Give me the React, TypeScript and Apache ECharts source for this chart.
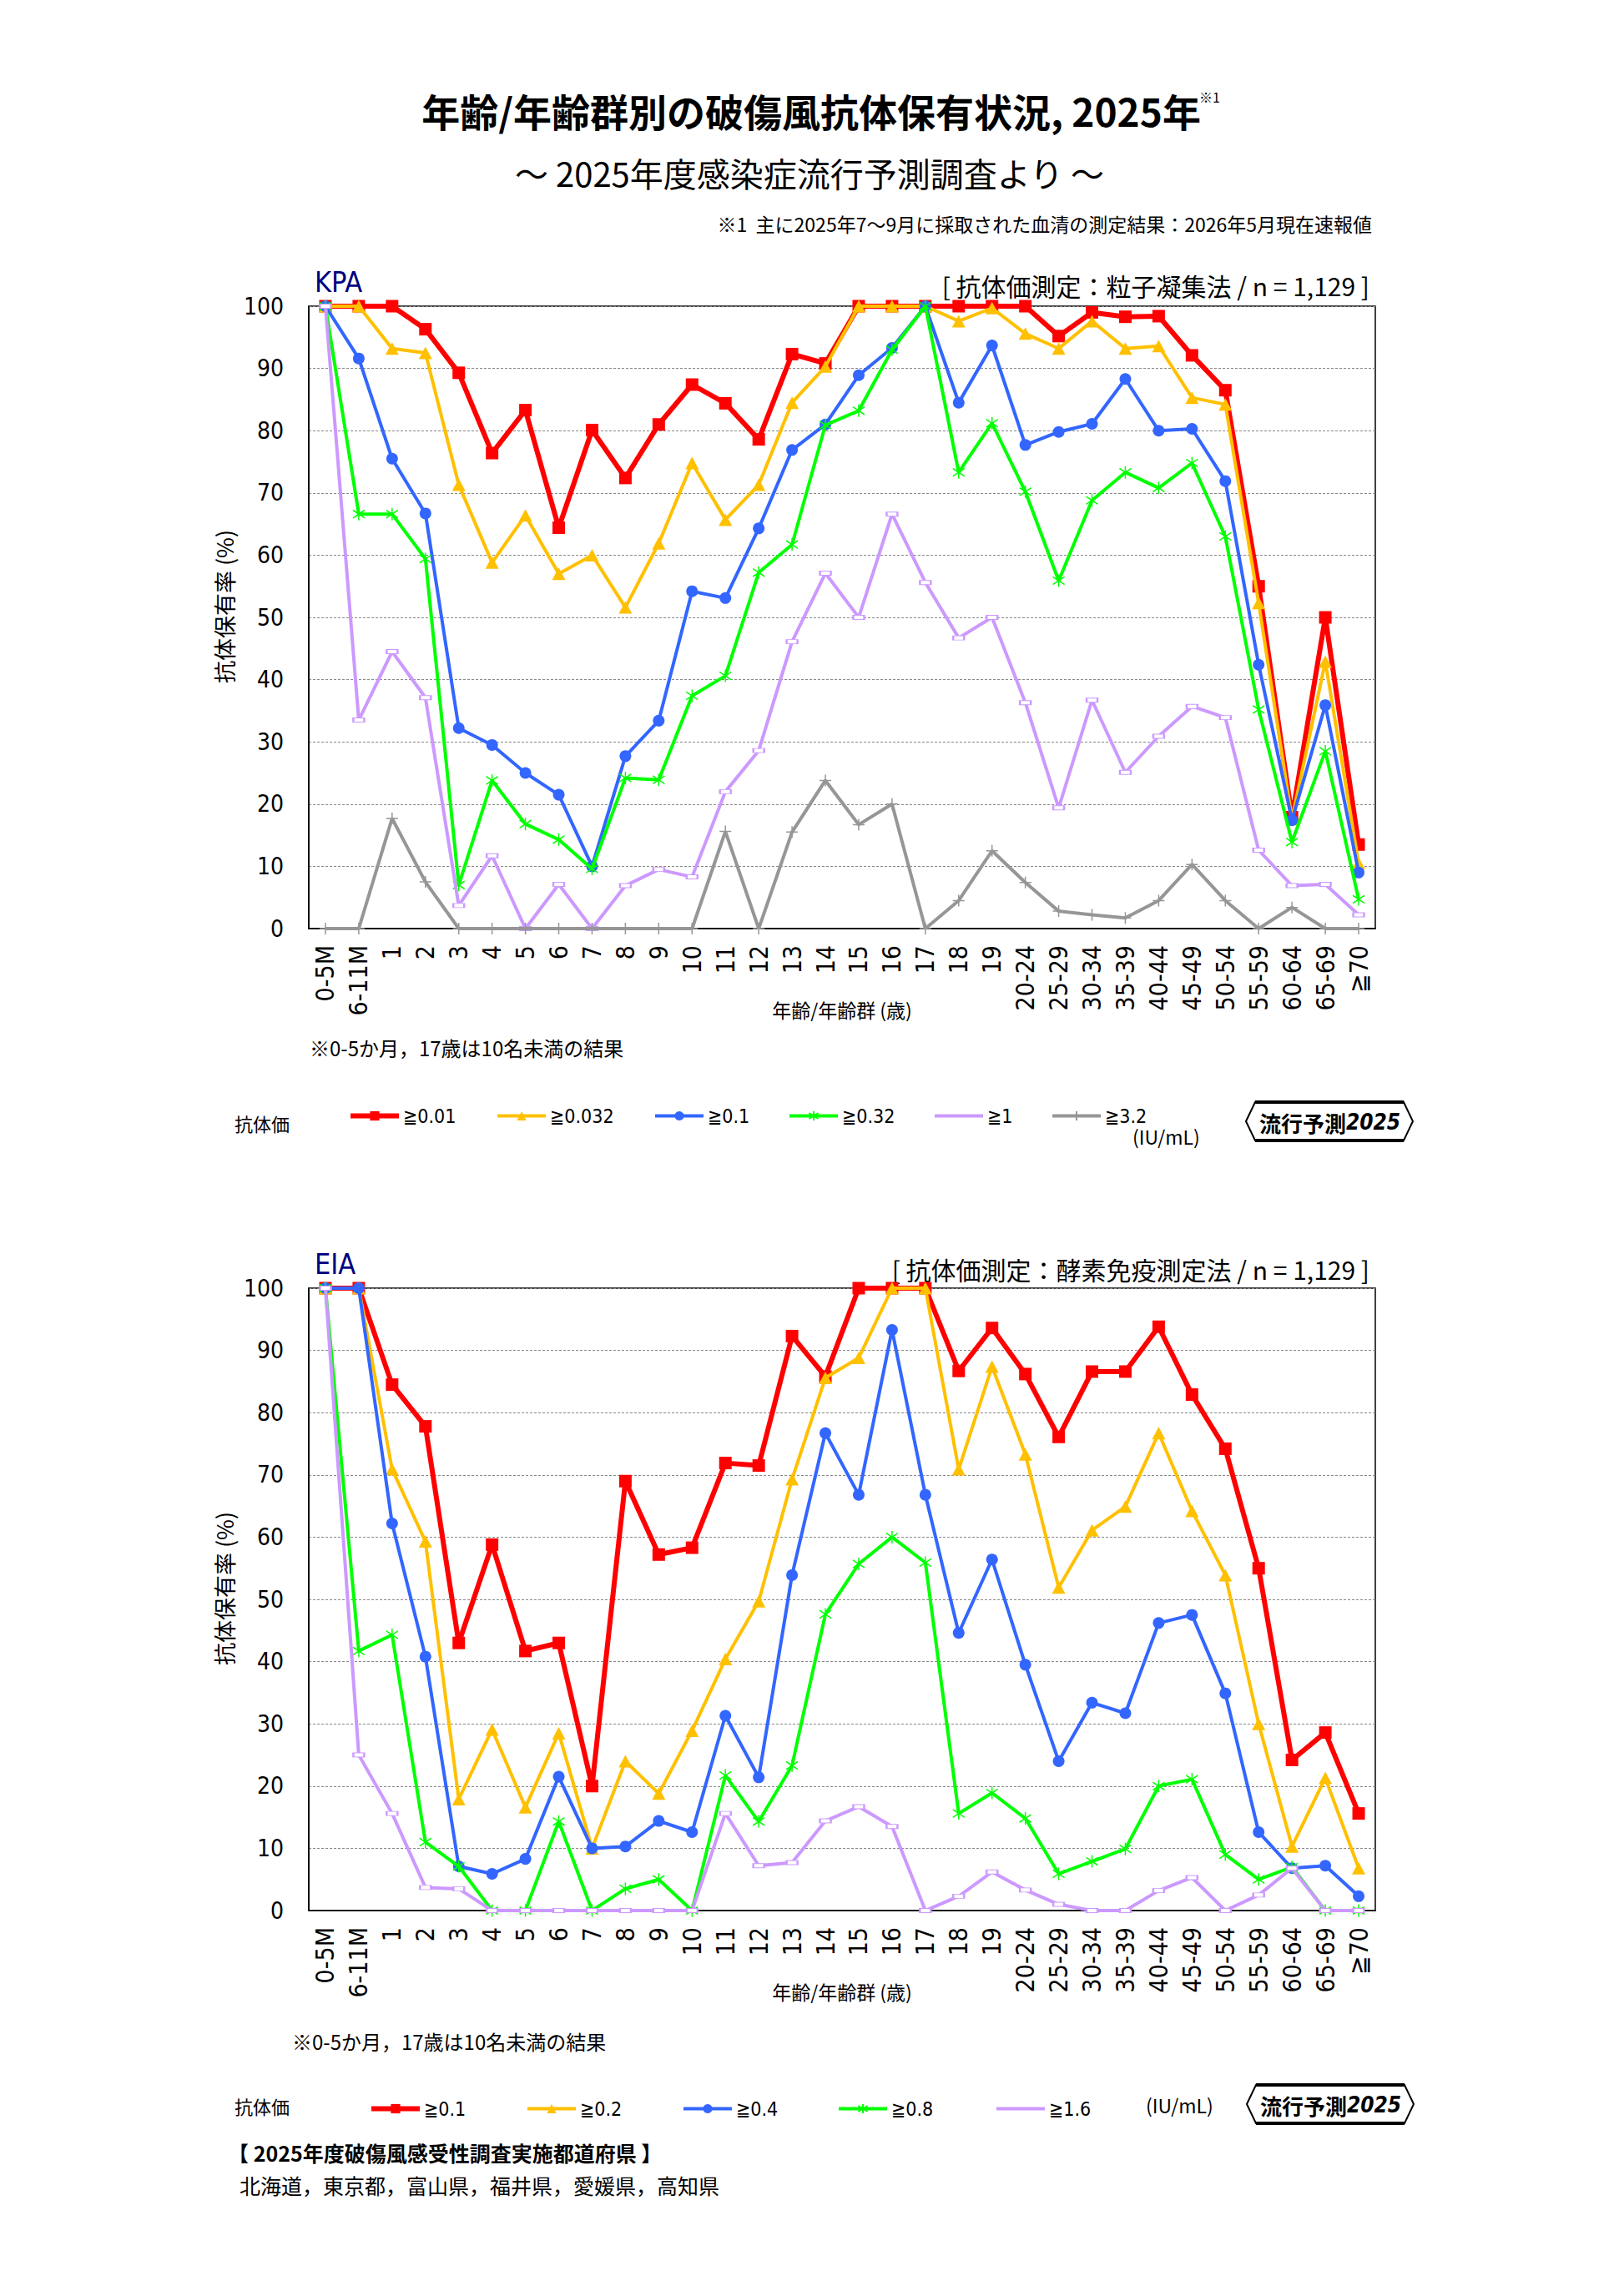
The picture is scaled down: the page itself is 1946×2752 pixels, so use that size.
import React, { useEffect, useRef } from "react";
import * as echarts from "echarts";

const categories = ["0-5M","6-11M","1","2","3","4","5","6","7","8","9","10","11","12","13","14","15","16","17","18","19","20-24","25-29","30-34","35-39","40-44","45-49","50-54","55-59","60-64","65-69","≧70"];

const yTicks = [0, 10, 20, 30, 40, 50, 60, 70, 80, 90, 100];

// KPA (particle agglutination)
const kpaNames = ["≧0.01", "≧0.032", "≧0.1", "≧0.32", "≧1", "≧3.2"];
const kpa001 = [100,100,100,96.3,89.3,76.4,83.3,64.4,80.1,72.4,81.0,87.4,84.4,78.6,92.3,90.8,100,100,100,100,100,100,95.2,99.0,98.3,98.4,92.1,86.5,55.0,17.9,50.0,13.5];
const kpa0032 = [100,100,93.2,92.5,71.3,58.8,66.4,57.0,60.0,51.6,61.9,74.8,65.7,71.3,84.5,90.3,100,100,100,97.6,99.7,95.6,93.2,97.6,93.2,93.6,85.3,84.2,52.3,17.6,42.9,10.5];
const kpa01 = [100,91.6,75.5,66.7,32.2,29.5,25.0,21.5,10.0,27.7,33.4,54.2,53.1,64.3,76.9,81.0,88.9,93.3,100,84.5,93.7,77.7,79.8,81.1,88.3,80.0,80.3,71.9,42.4,17.4,35.9,9.0];
const kpa032 = [100,66.6,66.6,59.4,7.0,23.8,16.8,14.3,9.6,24.2,23.9,37.4,40.6,57.2,61.7,80.9,83.2,93.0,100,73.3,81.2,70.2,55.9,68.8,73.3,70.8,74.8,63.0,35.2,13.9,28.5,4.7];
const kpa1 = [100,33.5,44.5,37.1,3.7,11.7,0,7.1,0,6.9,9.5,8.3,22.0,28.6,46.1,57.1,50.0,66.6,55.6,46.7,50.0,36.3,19.4,36.7,25.1,30.9,35.7,33.9,12.6,6.9,7.1,2.2];
const kpa32 = [0,0,17.7,7.5,0,0,0,0,0,0,0,0,15.6,0,15.5,23.8,16.7,20.0,0,4.5,12.5,7.4,2.8,2.2,1.7,4.5,10.3,4.5,0,3.4,0,0];

// EIA (enzyme immunoassay)
const eiaNames = ["≧0.1", "≧0.2", "≧0.4", "≧0.8", "≧1.6"];
const eia01 = [100,100,84.5,77.8,43.0,58.8,41.7,43.0,20.0,69.0,57.2,58.3,71.9,71.5,92.3,85.8,100,100,100,86.7,93.6,86.2,76.1,86.6,86.6,93.8,82.9,74.2,55.0,24.2,28.6,15.6];
const eia02 = [100,100,70.9,59.3,17.9,29.1,16.6,28.5,10.0,24.0,18.8,28.9,40.4,49.7,69.3,85.6,88.8,100,100,70.9,87.4,73.3,51.9,61.1,64.9,76.7,64.2,53.9,30.0,10.3,21.3,6.8];
const eia04 = [100,100,62.2,40.8,7.1,5.9,8.3,21.5,10.0,10.3,14.4,12.6,31.3,21.4,53.9,76.7,66.8,93.3,66.8,44.6,56.4,39.5,24.0,33.4,31.7,46.2,47.5,34.9,12.6,6.8,7.2,2.3];
const eia08 = [100,41.7,44.3,11.0,7.1,0,0,14.3,0,3.5,5.0,0,21.7,14.3,23.3,47.6,55.7,60.0,55.9,15.6,18.9,14.8,5.9,7.9,9.9,20.0,21.1,9.0,5.0,7.0,0,0];
const eia16 = [100,25.0,15.6,3.7,3.5,0,0,0,0,0,0,0,15.6,7.2,7.7,14.4,16.7,13.5,0,2.3,6.2,3.3,1.0,0,0,3.2,5.3,0,2.5,6.8,0,0];

const kpaData = [kpa001, kpa0032, kpa01, kpa032, kpa1, kpa32];
const eiaData = [eia01, eia02, eia04, eia08, eia16];

const NUM = "'DejaVu Sans Condensed','DejaVu Sans','Noto Sans CJK JP',sans-serif";
const JP = "'Noto Sans CJK JP','DejaVu Sans',sans-serif";

const RED = "#FF0000", YEL = "#FFC000", BLU = "#3366FF", GRN = "#00FF00", LIL = "#CC99FF", GRY = "#969696";

const ASTER = "path://M7,0V16M0,3L14,13M0,13L14,3";
const PLUS = "path://M7,0V14M0,7H14";

const styles = [
  { color: RED, width: 6, symbol: "rect", size: 15, fill: RED, bw: 0 },
  { color: YEL, width: 4, symbol: "triangle", size: [16, 15], fill: YEL, bw: 0 },
  { color: BLU, width: 4, symbol: "circle", size: 14, fill: BLU, bw: 0 },
  { color: GRN, width: 4, symbol: ASTER, size: [14, 15], fill: GRN, bw: 1.5 },
  { color: LIL, width: 4, symbol: "rect", size: [13, 5], fill: "#ffffff", bw: 1.5 },
  { color: GRY, width: 4, symbol: PLUS, size: [14, 14], fill: GRY, bw: 1.5 },
];

const OFF = 1177;

function txt(x: number, y: number, text: string, size: number, opts: any = {}) {
  const align = opts.align || "left";
  const va = opts.va || "middle";
  return {
    type: "text",
    x,
    y,
    rotation: opts.rotation || 0,
    style: {
      text,
      fontSize: size,
      fontFamily: opts.family || JP,
      fontWeight: opts.bold ? "bold" : "normal",
      fontStyle: opts.italic ? "italic" : "normal",
      fill: opts.color || "#000",
      align,
      textAlign: align,
      verticalAlign: va,
      textVerticalAlign: va,
    },
  };
}

function badge(cx: number, cy: number) {
  return [
    {
      type: "polygon",
      shape: { points: [[cx - 100, cy], [cx - 89, cy - 23], [cx + 89, cy - 23], [cx + 100, cy], [cx + 89, cy + 23], [cx - 89, cy + 23]] },
      style: { fill: "#fff", stroke: "#000", lineWidth: 2 },
    },
    { type: "rect", shape: { x: cx - 89, y: cy - 25, width: 178, height: 4 }, style: { fill: "#000" } },
    { type: "rect", shape: { x: cx - 89, y: cy + 21, width: 178, height: 4 }, style: { fill: "#000" } },
    txt(cx + 20, cy + 1, "流行予測", 26, { align: "right", bold: true }),
    txt(cx + 20, cy + 1, "2025", 26, { align: "left", bold: true, italic: true, family: NUM }),
  ];
}

export default function App() {
  const ref = useRef<HTMLDivElement>(null);
  useEffect(() => {
    document.body.style.margin = "0";
    if (!ref.current) return;
    const chart = echarts.init(ref.current, undefined, { renderer: "svg" });

    const grids = [
      { left: 370, top: 367, width: 1278, height: 746 },
      { left: 370, top: 367 + OFF, width: 1278, height: 746 },
    ].map((g) => ({ ...g, show: true, borderColor: "#000", borderWidth: 1.5, backgroundColor: "transparent", containLabel: false }));

    const xAxes = [0, 1].map((i) => ({
      type: "category",
      gridIndex: i,
      data: categories,
      boundaryGap: true,
      axisLine: { show: true, lineStyle: { color: "#000", width: 1.5 } },
      axisTick: { show: false },
      axisLabel: { interval: 0, rotate: 90, fontSize: 30, fontFamily: NUM, color: "#000", margin: 20 },
      splitLine: { show: false },
    }));

    const yAxes = [0, 1].map((i) => ({
      type: "value",
      gridIndex: i,
      min: yTicks[0],
      max: yTicks[yTicks.length - 1],
      interval: 10,
      axisLine: { show: true, lineStyle: { color: "#000", width: 1.5 } },
      axisTick: { show: false },
      axisLabel: { fontSize: 28, fontFamily: NUM, color: "#000", margin: 30 },
      splitLine: { show: true, lineStyle: { color: "#888", width: 1, type: [3, 2] } },
    }));

    const series: any[] = [];
    kpaNames.forEach((n, k) => {
      const s = styles[k];
      series.push({
        type: "line",
        name: "KPA " + n,
        xAxisIndex: 0,
        yAxisIndex: 0,
        data: kpaData[k],
        clip: false,
        symbol: s.symbol,
        symbolSize: s.size,
        showAllSymbol: true,
        lineStyle: { color: s.color, width: s.width },
        itemStyle: { color: s.fill, borderColor: s.color, borderWidth: s.bw },
        emphasis: { disabled: true },
        z: 2 + k,
      });
    });
    eiaNames.forEach((n, k) => {
      const s = styles[k];
      series.push({
        type: "line",
        name: "EIA " + n,
        xAxisIndex: 1,
        yAxisIndex: 1,
        data: eiaData[k],
        clip: false,
        symbol: s.symbol,
        symbolSize: s.size,
        showAllSymbol: true,
        lineStyle: { color: s.color, width: s.width },
        itemStyle: { color: s.fill, borderColor: s.color, borderWidth: s.bw },
        emphasis: { disabled: true },
        z: 2 + k,
      });
    });

    const topLegX = [417, 594, 783, 944, 1118, 1259];
    const botLegX = [442, 630, 817, 1003, 1192];
    const legends: any[] = [];
    kpaNames.forEach((n, k) => {
      legends.push({
        left: topLegX[k],
        top: 1333 - 7,
        padding: 0,
        itemWidth: 58,
        itemHeight: 14,
        selectedMode: false,
        data: [k === 4 ? { name: "KPA " + n, itemStyle: { color: "rgba(0,0,0,0)", borderWidth: 0 } } : "KPA " + n],
        formatter: (name: string) => name.replace("KPA ", ""),
        lineStyle: { width: styles[k].width },
        textStyle: { fontSize: 23, fontFamily: NUM, color: "#000" },
      });
    });
    eiaNames.forEach((n, k) => {
      legends.push({
        left: botLegX[k],
        top: 2523 - 7,
        padding: 0,
        itemWidth: 58,
        itemHeight: 14,
        selectedMode: false,
        data: [k === 4 ? { name: "EIA " + n, itemStyle: { color: "rgba(0,0,0,0)", borderWidth: 0 } } : "EIA " + n],
        formatter: (name: string) => name.replace("EIA ", ""),
        lineStyle: { width: styles[k].width },
        textStyle: { fontSize: 23, fontFamily: NUM, color: "#000" },
      });
    });

    const graphics: any[] = [
      txt(972, 132, "年齢/年齢群別の破傷風抗体保有状況, 2025年", 46, { align: "center", bold: true }),
      txt(1437, 116, "※1", 16, {}),
      txt(970, 207, "～ 2025年度感染症流行予測調査より ～", 40, { align: "center" }),
      txt(1644, 268, "※1  主に2025年7～9月に採取された血清の測定結果：2026年5月現在速報値", 23, { align: "right" }),
      // top chart
      txt(377, 338, "KPA", 34, { color: "#000080", family: NUM }),
      txt(1641, 342, "[ 抗体価測定：粒子凝集法 / n = 1,129 ]", 30, { align: "right" }),
      txt(268, 727, "抗体保有率 (%)", 27, { align: "center", rotation: Math.PI / 2 }),
      txt(1009, 1210, "年齢/年齢群 (歳)", 23, { align: "center" }),
      txt(371, 1255, "※0-5か月，17歳は10名未満の結果", 24, {}),
      txt(281, 1346, "抗体価", 22, {}),
      txt(1357, 1362, "(IU/mL)", 23, {}),
      ...badge(1593, 1344),
      // bottom chart
      txt(377, 338 + OFF, "EIA", 34, { color: "#000080", family: NUM }),
      txt(1641, 1521, "[ 抗体価測定：酵素免疫測定法 / n = 1,129 ]", 30, { align: "right" }),
      txt(268, 727 + OFF, "抗体保有率 (%)", 27, { align: "center", rotation: Math.PI / 2 }),
      txt(1009, 2387, "年齢/年齢群 (歳)", 23, { align: "center" }),
      txt(350, 2446, "※0-5か月，17歳は10名未満の結果", 24, {}),
      txt(281, 2524, "抗体価", 22, {}),
      txt(1373, 2523, "(IU/mL)", 23, {}),
      ...badge(1594, 2522),
      // footer
      txt(273, 2580, "【 2025年度破傷風感受性調査実施都道府県 】", 25, { bold: true }),
      txt(287, 2619, "北海道，東京都，富山県，福井県，愛媛県，高知県", 25, {}),
    ];

    chart.setOption({
      animation: false,
      backgroundColor: "#fff",
      textStyle: { fontFamily: JP },
      grid: grids,
      xAxis: xAxes,
      yAxis: yAxes,
      legend: legends,
      series,
      graphic: graphics,
    });
    return () => chart.dispose();
  }, []);
  return <div ref={ref} style={{ width: 1946, height: 2752 }} />;
}
